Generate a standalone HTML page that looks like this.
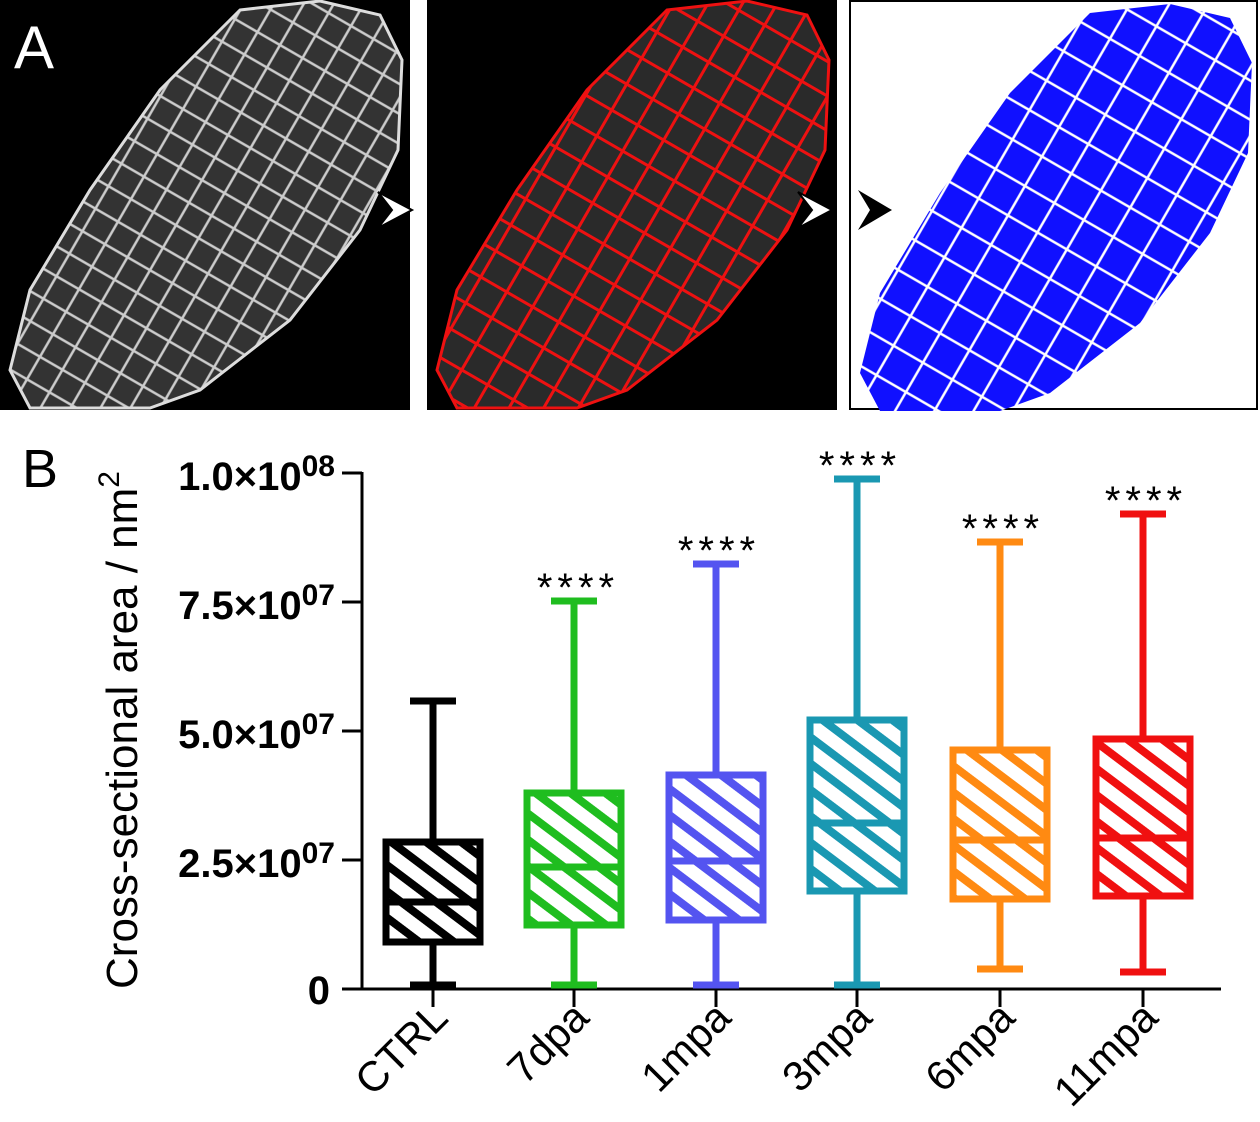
<!DOCTYPE html>
<html><head><meta charset="utf-8"><style>
html,body{margin:0;padding:0;background:#fff}
svg{display:block}
</style></head><body>
<svg width="1260" height="1122" viewBox="0 0 1260 1122" xmlns="http://www.w3.org/2000/svg">
<defs>
<pattern id="wl" width="26" height="26" patternUnits="userSpaceOnUse" patternTransform="rotate(30)">
<rect width="26" height="26" fill="#333"/>
<path d="M0 3H26M5 0V26" stroke="#ccc" stroke-width="2.5"/>
</pattern>
<pattern id="rl" width="30" height="30" patternUnits="userSpaceOnUse" patternTransform="rotate(30)">
<rect width="30" height="30" fill="#2a2a2a"/>
<path d="M0 3H30M5 0V30" stroke="#e11" stroke-width="3"/>
</pattern>
<pattern id="bl" width="34" height="34" patternUnits="userSpaceOnUse" patternTransform="rotate(30)">
<rect width="34" height="34" fill="#1010ff"/>
<path d="M0 3H34M5 0V34" stroke="#fff" stroke-width="2.5"/>
</pattern>
<polygon id="blob" points="240,10 320,1 380,15 402,60 398,150 360,230 290,320 200,390 150,408 30,408 10,370 30,290 90,190 160,90"/>
<pattern id="h0" width="21" height="21" patternUnits="userSpaceOnUse" patternTransform="rotate(-53)"><rect width="21" height="21" fill="#fff"/><rect width="8" height="21" fill="#000"/></pattern>
<pattern id="h1" width="21" height="21" patternUnits="userSpaceOnUse" patternTransform="rotate(-53)"><rect width="21" height="21" fill="#fff"/><rect width="8" height="21" fill="#1fbd1f"/></pattern>
<pattern id="h2" width="21" height="21" patternUnits="userSpaceOnUse" patternTransform="rotate(-53)"><rect width="21" height="21" fill="#fff"/><rect width="8" height="21" fill="#5454f0"/></pattern>
<pattern id="h3" width="21" height="21" patternUnits="userSpaceOnUse" patternTransform="rotate(-53)"><rect width="21" height="21" fill="#fff"/><rect width="8" height="21" fill="#1a98b2"/></pattern>
<pattern id="h4" width="21" height="21" patternUnits="userSpaceOnUse" patternTransform="rotate(-53)"><rect width="21" height="21" fill="#fff"/><rect width="8" height="21" fill="#ff8a12"/></pattern>
<pattern id="h5" width="21" height="21" patternUnits="userSpaceOnUse" patternTransform="rotate(-53)"><rect width="21" height="21" fill="#fff"/><rect width="8" height="21" fill="#f01010"/></pattern>
</defs>
<!-- Panel A -->
<rect x="0" y="0" width="410" height="410" fill="#000"/>
<use href="#blob" fill="url(#wl)" stroke="#ddd" stroke-width="3"/>
<text x="14" y="68" font-family="Liberation Sans, sans-serif" font-size="60" fill="#fff">A</text>
<rect x="427" y="0" width="410" height="410" fill="#000"/>
<g transform="translate(427,0)"><use href="#blob" fill="url(#rl)" stroke="#e11" stroke-width="3"/></g>
<rect x="850" y="1" width="407" height="408" fill="#fff" stroke="#000" stroke-width="2"/>
<g transform="translate(850,3)"><use href="#blob" fill="url(#bl)"/></g>
<rect x="411" y="0" width="16" height="410" fill="#fff"/>
<rect x="838" y="0" width="11" height="410" fill="#fff"/>
<polygon points="378,192 412,210 378,228 392,210" fill="#fff" stroke="#000" stroke-width="2"/>
<polygon points="436,190 470,210 436,230 448,210" fill="#000"/>
<polygon points="798,192 832,210 798,228 812,210" fill="#fff" stroke="#000" stroke-width="2"/>
<polygon points="858,190 892,210 858,230 870,210" fill="#000"/>
<!-- Panel B -->
<text x="22" y="487" font-family="Liberation Sans, sans-serif" font-size="54" fill="#000">B</text>
<text transform="translate(137,730) rotate(-90)" text-anchor="middle" font-family="Liberation Sans, sans-serif" font-size="44" fill="#000">Cross-sectional area / nm<tspan font-size="30" dy="-18">2</tspan></text>
<g font-family="Liberation Sans, sans-serif" font-weight="bold" fill="#000" text-anchor="end">
<text x="335" y="490" font-size="40">1.0×10<tspan font-size="30" dy="-14">08</tspan></text>
<text x="335" y="619" font-size="40">7.5×10<tspan font-size="30" dy="-14">07</tspan></text>
<text x="335" y="748" font-size="40">5.0×10<tspan font-size="30" dy="-14">07</tspan></text>
<text x="335" y="877" font-size="40">2.5×10<tspan font-size="30" dy="-14">07</tspan></text>
<text x="330" y="1004" font-size="40">0</text>
</g>
<g stroke="#000" stroke-width="3">
<path d="M362 472V989M342 473H362M342 602H362M342 731H362M342 860H362M342 989H1221"/>
<path d="M433 989V1007M574 989V1007M716 989V1007M857 989V1007M1000 989V1007M1143 989V1007"/>
</g>
<g font-family="Liberation Sans, sans-serif" font-size="42" fill="#000" text-anchor="end">
<text transform="translate(450,1020) rotate(-45)">CTRL</text>
<text transform="translate(591,1020) rotate(-45)">7dpa</text>
<text transform="translate(733,1020) rotate(-45)">1mpa</text>
<text transform="translate(874,1020) rotate(-45)">3mpa</text>
<text transform="translate(1017,1020) rotate(-45)">6mpa</text>
<text transform="translate(1160,1020) rotate(-45)">11mpa</text>
</g>
<g fill="none" stroke-width="7">
<g stroke="#000"><path d="M433 701V842M433 942V985M410 701H456M410 985H456"/><rect x="386" y="842" width="94" height="100" fill="url(#h0)"/><path d="M386 902H480"/></g>
<g stroke="#1fbd1f"><path d="M574 601V793M574 925V985M551 601H597M551 985H597"/><rect x="527" y="793" width="94" height="132" fill="url(#h1)"/><path d="M527 867H621"/></g>
<g stroke="#5454f0"><path d="M716 564V775M716 920V985M693 564H739M693 985H739"/><rect x="669" y="775" width="94" height="145" fill="url(#h2)"/><path d="M669 861H763"/></g>
<g stroke="#1a98b2"><path d="M857 479V720M857 891V985M834 479H880M834 985H880"/><rect x="810" y="720" width="94" height="171" fill="url(#h3)"/><path d="M810 823H904"/></g>
<g stroke="#ff8a12"><path d="M1000 542V750M1000 899V969M977 542H1023M977 969H1023"/><rect x="953" y="750" width="94" height="149" fill="url(#h4)"/><path d="M953 840H1047"/></g>
<g stroke="#f01010"><path d="M1143 514V739M1143 896V972M1120 514H1166M1120 972H1166"/><rect x="1096" y="739" width="94" height="157" fill="url(#h5)"/><path d="M1096 838H1190"/></g>
</g>
<g font-family="Liberation Sans, sans-serif" font-size="40" letter-spacing="5" fill="#000" text-anchor="middle">
<text x="578" y="601">****</text>
<text x="719" y="564">****</text>
<text x="860" y="479">****</text>
<text x="1003" y="542">****</text>
<text x="1146" y="514">****</text>
</g>
</svg>
</body></html>
